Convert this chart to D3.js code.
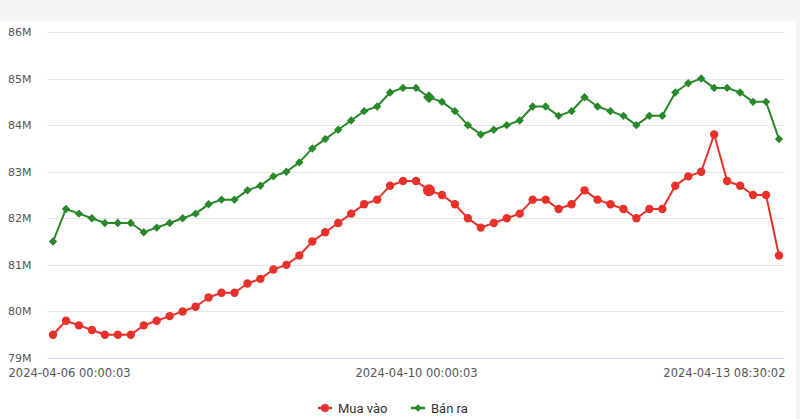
<!DOCTYPE html>
<html>
<head>
<meta charset="utf-8">
<script src="https://cdn.jsdelivr.net/npm/d3@7"></script>
<style>
  html, body { margin: 0; padding: 0; background: #f4f5f7; }
  svg { display: block; }
</style>
</head>
<body>
<svg id="chart" width="800" height="419"></svg>
<script>
// ---- data ----
const buyValues = [79.5,79.8,79.7,79.6,79.5,79.5,79.5,79.7,79.8,79.9,80.0,80.1,80.3,80.4,80.4,80.6,80.7,80.9,81.0,81.2,81.5,81.7,81.9,82.1,82.3,82.4,82.7,82.8,82.8,82.6,82.5,82.3,82.0,81.8,81.9,82.0,82.1,82.4,82.4,82.2,82.3,82.6,82.4,82.3,82.2,82.0,82.2,82.2,82.7,82.9,83.0,83.8,82.8,82.7,82.5,82.5,81.2];
const sellValues = [81.5,82.2,82.1,82.0,81.9,81.9,81.9,81.7,81.8,81.9,82.0,82.1,82.3,82.4,82.4,82.6,82.7,82.9,83.0,83.2,83.5,83.7,83.9,84.1,84.3,84.4,84.7,84.8,84.8,84.6,84.5,84.3,84.0,83.8,83.9,84.0,84.1,84.4,84.4,84.2,84.3,84.6,84.4,84.3,84.2,84.0,84.2,84.2,84.7,84.9,85.0,84.8,84.8,84.7,84.5,84.5,83.7];
const xTickIndex = [0, 28, 56];
const xTickLabels = ["2024-04-06 00:00:03", "2024-04-10 00:00:03", "2024-04-13 08:30:02"];
const yTicks = [79, 80, 81, 82, 83, 84, 85, 86];
const seriesNames = ["Mua vào", "Bán ra"];
const highlightIndex = 29;

// ---- layout ----
const svg = d3.select("#chart");
const W = 800, H = 419;
const plotTop = 32, plotBottom = 358;
const colors = ["#e8312a", "#27892a"];

svg.append("rect").attr("x", 0).attr("y", 21).attr("width", 796).attr("height", H - 21).attr("fill", "#ffffff");

const x = d3.scaleLinear().domain([0, buyValues.length - 1]).range([53, 779]);
const y = d3.scaleLinear().domain([79, 86]).range([plotBottom, plotTop]);

// grid
const grid = svg.append("g");
grid.selectAll("line").data(yTicks).join("line")
  .attr("x1", 47).attr("x2", 785)
  .attr("y1", d => Math.round(y(d)) + 0.5).attr("y2", d => Math.round(y(d)) + 0.5)
  .attr("stroke", d => d === 79 ? "#dcdcef" : "#e6e6e6").attr("stroke-width", 1);

// y axis labels
const yAxis = d3.axisLeft(y).tickValues(yTicks).tickFormat(d => d + "M").tickSize(0);
const yg = svg.append("g").attr("transform", "translate(8,0)").call(yAxis);
yg.select(".domain").remove();
yg.selectAll("text").attr("text-anchor", "start").attr("x", 0).attr("dy", "0.32em")
  .attr("fill", "#555").style("font-family", "'DejaVu Sans', sans-serif").style("font-size", "11px");

// x axis labels
const xAxis = d3.axisBottom(x).tickValues(xTickIndex).tickFormat((d, i) => xTickLabels[i]).tickSize(0);
const xg = svg.append("g").attr("transform", `translate(0,${plotBottom})`).call(xAxis);
xg.select(".domain").remove();
xg.selectAll("text").attr("y", 11).attr("dy", "0.71em")
  .attr("fill", "#555").style("font-family", "'DejaVu Sans', sans-serif").style("font-size", "11.5px")
  .attr("text-anchor", (d, i) => i === 0 ? "start" : (i === xTickIndex.length - 1 ? "end" : "middle"))
  .attr("x", (d, i) => i === 0 ? 8 - x(d) : (i === xTickIndex.length - 1 ? 785 - x(d) : 0));

// lines
const line = d3.line().x((d, i) => x(i)).y(d => y(d));
const allSeries = [buyValues, sellValues];
allSeries.forEach((vals, s) => {
  svg.append("path").datum(vals).attr("d", line)
    .attr("fill", "none").attr("stroke", colors[s]).attr("stroke-width", 2).attr("stroke-linejoin", "round");
});

// markers
svg.append("g").selectAll("circle").data(buyValues).join("circle")
  .attr("cx", (d, i) => x(i)).attr("cy", d => y(d))
  .attr("r", (d, i) => i === highlightIndex ? 6 : 4.2)
  .attr("fill", colors[0]);

const diamond = d3.symbol().type(d3.symbolDiamond2);
svg.append("g").selectAll("path").data(sellValues).join("path")
  .attr("transform", (d, i) => `translate(${x(i)},${y(d)})`)
  .attr("d", (d, i) => diamond.size(i === highlightIndex ? 90 : 45)())
  .attr("fill", colors[1]);

// legend
const legendItems = [{ name: seriesNames[0], x: 318, c: colors[0], t: "circle" }, { name: seriesNames[1], x: 411, c: colors[1], t: "diamond" }];
const lg = svg.append("g");
legendItems.forEach(it => {
  const g = lg.append("g").attr("transform", `translate(${it.x},408)`);
  g.append("line").attr("x1", 0).attr("x2", 14).attr("y1", 0).attr("y2", 0).attr("stroke", it.c).attr("stroke-width", 2.5);
  if (it.t === "circle") g.append("circle").attr("cx", 7).attr("cy", 0).attr("r", 4).attr("fill", it.c);
  else g.append("path").attr("transform", "translate(7,0)").attr("d", d3.symbol().type(d3.symbolDiamond2).size(36)()).attr("fill", it.c);
  g.append("text").attr("x", 20).attr("y", 0).attr("dy", "0.35em").text(it.name)
    .attr("fill", "#333").style("font-family", "'Liberation Sans Narrow', 'Roboto', sans-serif").style("font-size", "13px");
});
</script>
</body>
</html>
